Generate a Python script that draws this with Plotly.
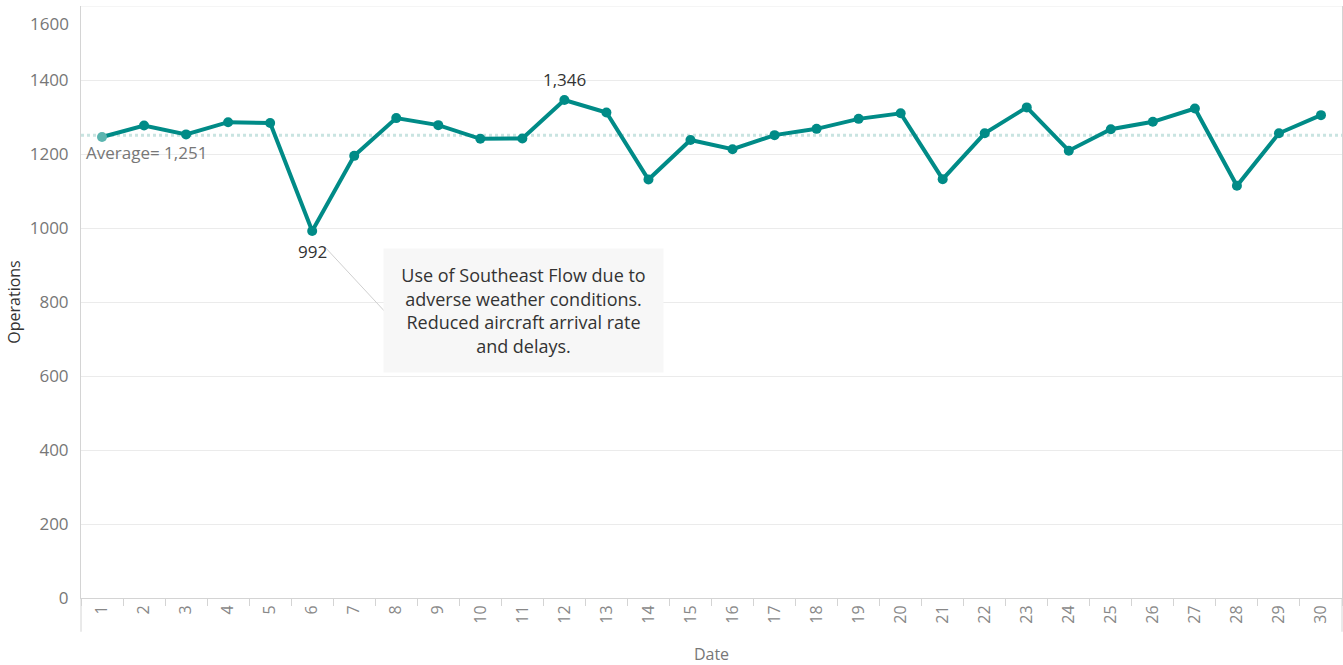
import plotly.graph_objects as go

dates = [str(d) for d in range(1, 31)]
operations = [1246, 1277, 1253, 1286, 1284, 992, 1195, 1297, 1278, 1241,
              1242, 1346, 1312, 1131, 1238, 1213, 1251, 1268, 1295, 1310,
              1132, 1256, 1326, 1209, 1267, 1287, 1323, 1114, 1256, 1305]
AVERAGE = 1251
y_ticks = [0, 200, 400, 600, 800, 1000, 1200, 1400]
Y_MAX = 1600
note_text = ("Use of Southeast Flow due to<br>adverse weather conditions.<br>"
             "Reduced aircraft arrival rate<br>and delays.")

TEAL = "#008B87"
FONT = "Open Sans"

marker_colors = [TEAL] * len(dates)
marker_colors[0] = "#5BB5B0"

fig = go.Figure()
fig.add_trace(go.Scatter(
    x=dates, y=operations, mode="lines+markers",
    line=dict(color=TEAL, width=4),
    marker=dict(color=marker_colors, size=10),
    hoverinfo="x+y", showlegend=False,
))

# average reference line
fig.add_shape(type="line", xref="paper", x0=0, x1=1, yref="y", y0=AVERAGE, y1=AVERAGE,
              line=dict(color="#C9E4E1", width=3, dash="dot"), layer="below")
# top gridline
fig.add_shape(type="line", xref="paper", x0=0, x1=1, yref="y", y0=Y_MAX, y1=Y_MAX,
              line=dict(color="#EBEBEB", width=1), layer="below")
# axis extensions below the plot
for xp in (0, 1):
    fig.add_shape(type="line", xref="paper", x0=xp, x1=xp, yref="paper", y0=-0.057, y1=0,
                  line=dict(color="#D4D4D4", width=1))

# connector line from 992 label to note box
min_i = operations.index(min(operations))
max_i = operations.index(max(operations))
fig.add_shape(type="line", xref="x", yref="y",
              x0=min_i + 0.3, y0=949, x1=min_i + 1.73, y1=774,
              line=dict(color="#CFCFCF", width=1))

fig.add_annotation(x=min_i, y=operations[min_i], text=f"{operations[min_i]:,}",
                   showarrow=False, yshift=-21, font=dict(family=FONT, size=17, color="#333333"))
fig.add_annotation(x=max_i, y=operations[max_i], text=f"{operations[max_i]:,}",
                   showarrow=False, yshift=20, font=dict(family=FONT, size=17, color="#333333"))
fig.add_annotation(xref="paper", x=0, xanchor="left", xshift=3, y=AVERAGE, yshift=-17,
                   text=f"Average= {AVERAGE:,}", showarrow=False,
                   font=dict(family=FONT, size=17, color="#777777"))
fig.add_annotation(xref="paper", x=0, xanchor="right", xshift=-10, y=Y_MAX, yanchor="top",
                   yshift=-4, text=str(Y_MAX), showarrow=False,
                   font=dict(family=FONT, size=17, color="#777777"))
fig.add_annotation(xref="x", x=min_i + 5.03, y=778, text=note_text, showarrow=False,
                   width=277, height=121, bgcolor="#F7F7F7", align="center",
                   font=dict(family=FONT, size=18, color="#333333"))

fig.update_layout(
    width=1343, height=665,
    margin=dict(l=81, r=1, t=6, b=67),
    paper_bgcolor="white", plot_bgcolor="white",
    font=dict(family=FONT, size=16, color="#777777"),
    xaxis=dict(
        type="category", range=[-0.5, len(dates) - 0.5],
        title=dict(text="Date", font=dict(size=16, color="#777777"), standoff=28),
        tickangle=-90, tickfont=dict(size=16, color="#888888"),
        ticks="outside", tickson="boundaries", ticklen=7, tickcolor="#D4D4D4",
        showline=True, linecolor="#D4D4D4", showgrid=False,
    ),
    yaxis=dict(
        range=[0, Y_MAX], tickvals=y_ticks,
        title=dict(text="Operations", font=dict(size=16, color="#333333"), standoff=5),
        tickfont=dict(size=17, color="#777777"),
        showline=True, linecolor="#D4D4D4", mirror=True,
        showgrid=True, gridcolor="#EBEBEB", zeroline=False,
        ticks="", ticklabelstandoff=8,
    ),
)

fig.write_html("out.html")
